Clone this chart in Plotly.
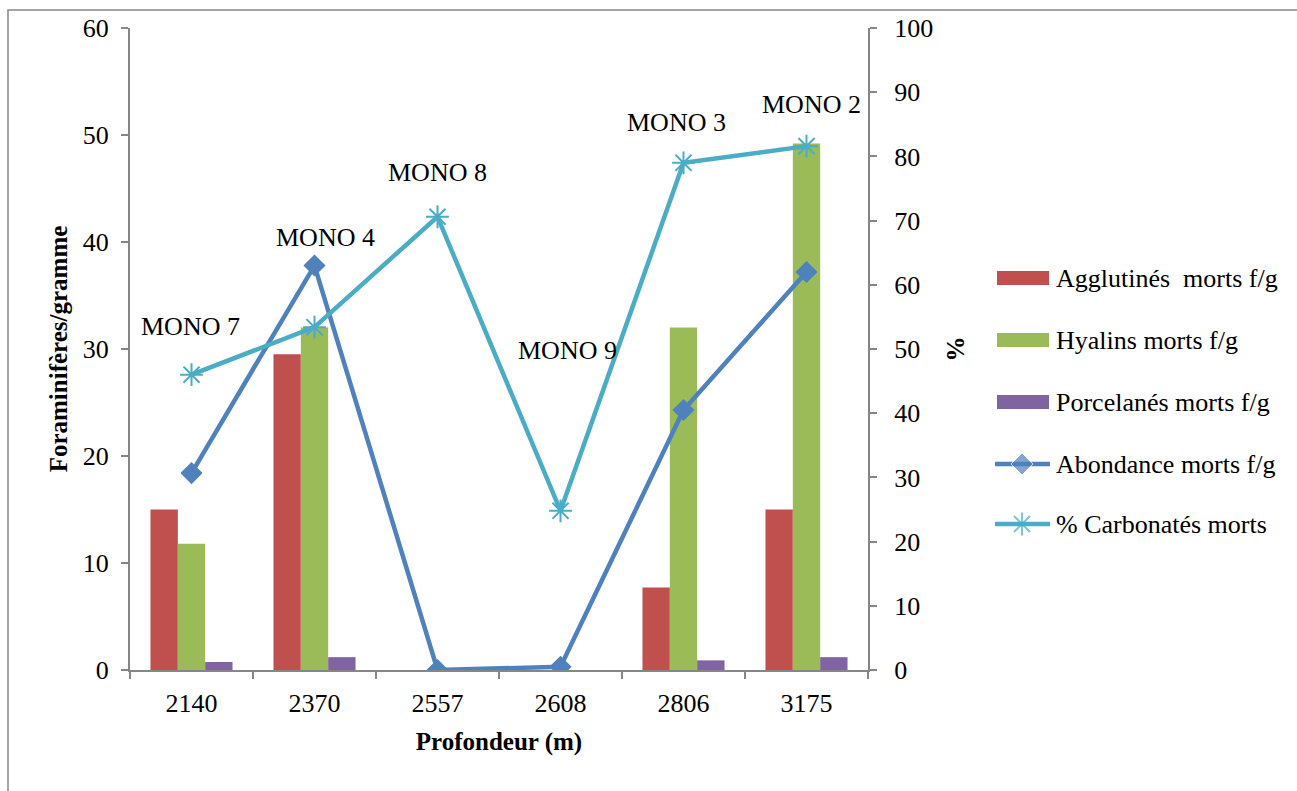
import plotly.graph_objects as go

# Sample depths (m) and dead foraminifera counts per gram
depths = ["2140", "2370", "2557", "2608", "2806", "3175"]
samples = ["MONO 7", "MONO 4", "MONO 8", "MONO 9", "MONO 3", "MONO 2"]

agglutines = [15.0, 29.5, 0, 0, 7.7, 15.0]
hyalins = [11.8, 32.0, 0, 0, 32.0, 49.2]
porcelanes = [0.75, 1.2, 0, 0, 0.9, 1.2]
abondance = [18.4, 37.8, 0.0, 0.3, 24.3, 37.2]
carbonates = [46.0, 53.4, 70.6, 24.8, 79.0, 81.6]

# Label offsets (px) for the sample names above the carbonate curve
label_dx = [-1, 11, 0, 7, -7, 5]
label_dy = [48, 90, 44, 160, 40, 42]

W, H = 1297, 791
FONT = "Liberation Serif"
FS = 26
AXIS_GREY = "#868686"
C_AGG, C_HYA, C_POR = "#C0504D", "#9BBB59", "#8064A2"
C_ABO, C_CAR = "#4F81BD", "#4BACC6"

# plot area in pixels
PX0, PX1, PY0, PY1 = 130, 868, 28, 670

fig = go.Figure()
fig.add_bar(x=depths, y=agglutines, name="Agglutinés  morts f/g",
            marker=dict(color=C_AGG, line=dict(width=0)))
fig.add_bar(x=depths, y=hyalins, name="Hyalins morts f/g",
            marker=dict(color=C_HYA, line=dict(width=0)))
fig.add_bar(x=depths, y=porcelanes, name="Porcelanés morts f/g",
            marker=dict(color=C_POR, line=dict(width=0)))
fig.add_scatter(x=depths, y=abondance, name="Abondance morts f/g",
                mode="lines+markers",
                line=dict(color=C_ABO, width=4.5),
                marker=dict(symbol="diamond", size=17, color=C_ABO))
fig.add_scatter(x=depths, y=carbonates, name="% Carbonatés morts",
                yaxis="y2", mode="lines+markers",
                line=dict(color=C_CAR, width=4.5),
                marker=dict(symbol="asterisk-open", size=19,
                            line=dict(color=C_CAR, width=2)))

# sample names, placed by category index on the x axis
for i, (s, c, dx, dy) in enumerate(zip(samples, carbonates, label_dx, label_dy)):
    fig.add_annotation(x=i, y=c, xref="x", yref="y2", text=s, showarrow=False,
                       xshift=dx, yshift=dy,
                       font=dict(family=FONT, size=FS, color="black"))

# ---- legend drawn on its own pixel-scaled axes to the right ----
LX0, LX1 = 990, 1295
leg_y = [278, 340, 402, 464, 524]
leg_names = [tr.name for tr in fig.data]
for k, (name, yy) in enumerate(zip(leg_names, leg_y)):
    if k < 3:
        fig.add_shape(type="rect", xref="x3", yref="y3",
                      x0=997, x1=1049, y0=yy - 7, y1=yy + 7,
                      fillcolor=[C_AGG, C_HYA, C_POR][k], line=dict(width=0))
    fig.add_annotation(x=1054, y=yy, xref="x3", yref="y3", text=name,
                       showarrow=False, xanchor="left", yanchor="middle",
                       font=dict(family=FONT, size=FS, color="black"))
fig.add_scatter(x=[995, 1022, 1050], y=[leg_y[3]] * 3, xaxis="x3", yaxis="y3",
                mode="lines+markers", showlegend=False, hoverinfo="skip",
                line=dict(color=C_ABO, width=4.5),
                marker=dict(symbol="diamond", size=[0, 17, 0], color=C_ABO))
fig.add_scatter(x=[995, 1022, 1050], y=[leg_y[4]] * 3, xaxis="x3", yaxis="y3",
                mode="lines+markers", showlegend=False, hoverinfo="skip",
                line=dict(color=C_CAR, width=4.5),
                marker=dict(symbol="asterisk-open", size=[0, 19, 0],
                            line=dict(color=C_CAR, width=2)))

# outer frame around the whole chart
fig.add_shape(type="rect", xref="paper", yref="paper",
              x0=8 / W, x1=1.01, y0=-0.01, y1=1 - 10 / H,
              line=dict(color=AXIS_GREY, width=1.5), layer="below")

tick_font = dict(family=FONT, size=FS, color="black")
title_font = dict(family=FONT, size=FS - 1, color="black")

fig.update_layout(
    width=W, height=H,
    margin=dict(l=0, r=0, t=0, b=0, autoexpand=False),
    paper_bgcolor="white", plot_bgcolor="rgba(0,0,0,0)",
    barmode="group", bargap=0.333, bargroupgap=0,
    font=dict(family=FONT, size=FS, color="black"),
    showlegend=False,
    xaxis=dict(type="category", range=[-0.5, len(depths) - 0.5],
               domain=[PX0 / W, PX1 / W], anchor="y", automargin=False,
               showgrid=False, showline=True,
               linecolor=AXIS_GREY, linewidth=2,
               ticks="outside", tickson="boundaries", ticklen=7,
               tickcolor=AXIS_GREY, tickwidth=2, tickangle=0,
               ticklabelstandoff=9,
               tickfont=tick_font,
               title=dict(text="<b>Profondeur (m)</b>", standoff=15,
                          font=title_font)),
    yaxis=dict(range=[0, 60], dtick=10, domain=[1 - PY1 / H, 1 - PY0 / H],
               anchor="x", automargin=False,
               showgrid=False, showline=True,
               linecolor=AXIS_GREY, linewidth=2, zeroline=False,
               ticks="outside", ticklen=7, tickcolor=AXIS_GREY, tickwidth=2,
               ticklabelstandoff=7,
               tickfont=tick_font,
               title=dict(text="<b>Foraminifères/gramme</b>", standoff=8,
                          font=title_font)),
    yaxis2=dict(range=[0, 100], dtick=10, overlaying="y", side="right",
                anchor="x", automargin=False,
                showgrid=False, showline=True, linecolor=AXIS_GREY,
                linewidth=2, zeroline=False,
                ticks="outside", ticklen=7, tickcolor=AXIS_GREY, tickwidth=2,
                ticklabelstandoff=12,
                tickfont=tick_font,
                title=dict(text="<b>%</b>", standoff=14, font=title_font)),
    xaxis3=dict(domain=[LX0 / W, LX1 / W], range=[LX0, LX1], anchor="y3",
                visible=False, fixedrange=True),
    yaxis3=dict(domain=[0, 1], range=[H, 0], anchor="x3",
                visible=False, fixedrange=True),
)

fig.write_html("out.html")
